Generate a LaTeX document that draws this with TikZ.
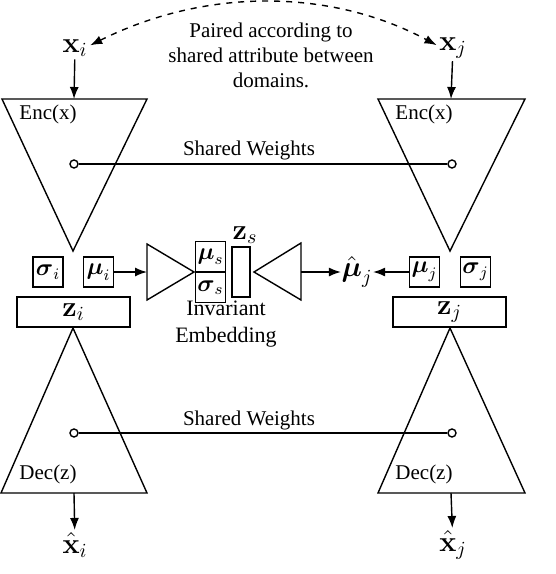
\documentclass[tikz,border=0pt]{standalone}
\usepackage{amsmath,amssymb}
\usepackage[no-math]{fontspec}
\setmainfont{Liberation Serif}
\usetikzlibrary{arrows.meta,positioning}

\begin{document}
\begin{tikzpicture}[
    x=0.5pt, y=-0.5pt,
    >={Latex[length=6pt,width=4.5pt]},
    line width=0.7pt,
    lbl/.style={font=\Large, inner sep=1pt},
    vec/.style={draw, minimum width=15pt, minimum height=15pt, inner sep=0pt, font=\large},
    zbox/.style={draw, minimum width=56.5pt, minimum height=15pt, inner sep=0pt, font=\Large},
    wdot/.style={circle, draw, fill=white, minimum size=4pt, inner sep=0pt},
    txt/.style={font=\rmfamily\fontsize{10.5}{12.5}\selectfont, align=center, inner sep=0pt}
]
\useasboundingbox (0,0) rectangle (556,574);

% inputs
\node[lbl] (xi) at (75,48) {$\mathbf{x}_i$};
\node[lbl] (xj) at (453,48) {$\mathbf{x}_j$};
\draw[<->, dashed] (xi.10) .. controls (205,-12) and (330,-12) .. (xj.170);
\node[txt] (pair) at (271,55) {Paired according to\\shared attribute between\\domains.};

% encoders
\coordinate (eL1) at (2,99);
\coordinate (eL2) at (147,99);
\coordinate (eL3) at (73,251);
\coordinate (eLtop) at (74,99);
\coordinate (eR1) at (378,99);
\coordinate (eR2) at (525,99);
\coordinate (eR3) at (450,251);
\coordinate (eRtop) at (451,99);
\draw (eL1) -- (eL2) -- (eL3) -- cycle;
\draw (eR1) -- (eR2) -- (eR3) -- cycle;
\node[txt] (encL) at (48,114) {Enc(x)};
\node[txt] (encR) at (424,114) {Enc(x)};
\draw[->] (xi) -- (eLtop);
\draw[->] (xj) -- (eRtop);

% shared weights (encoder)
\node[wdot] (wL1) at (74,164) {};
\node[wdot] (wR1) at (452,164) {};
\draw (wL1) -- (wR1);
\node[txt] (sw1) at (249,150) {Shared Weights};

% latent vectors
\node[vec] (sigi) at (48,272) {$\boldsymbol{\sigma}_i$};
\node[vec] (mui) at (98.5,272) {$\boldsymbol{\mu}_i$};
\node[zbox] (zi) at (73.5,312) {$\mathbf{z}_i$};
\node[vec] (muj) at (424.5,272) {$\boldsymbol{\mu}_j$};
\node[vec] (sigj) at (475.5,272) {$\boldsymbol{\sigma}_j$};
\node[zbox] (zj) at (449.5,312) {$\mathbf{z}_j$};

% invariant embedding
\coordinate (iL1) at (147,244);
\coordinate (iL2) at (147,300);
\coordinate (iL3) at (194,272);
\coordinate (iLin) at (147,272);
\coordinate (iR1) at (301,243);
\coordinate (iR2) at (301,300);
\coordinate (iR3) at (254,272);
\coordinate (iRout) at (301,272);
\draw (iL1) -- (iL3) -- (iL2) -- cycle;
\draw (iR1) -- (iR3) -- (iR2) -- cycle;
\node[vec] (mus) at (210.5,256.5) {$\boldsymbol{\mu}_s$};
\node[vec] (sigs) at (210.5,287.5) {$\boldsymbol{\sigma}_s$};
\node[draw, minimum width=9pt, minimum height=25pt, inner sep=0pt] (zs) at (241,272) {};
\node[lbl] (zsl) at (245,235) {$\mathbf{z}_s$};
\node[txt, font=\rmfamily\fontsize{11}{13.5}\selectfont] (inv) at (226,324) {Invariant\\Embedding};
\node[lbl, inner sep=0pt] (muhj) at (357,272) {$\hat{\boldsymbol{\mu}}_j$};
\draw[->] (mui) -- (iLin);
\draw[->] (iRout) -- (muhj);
\draw[->] (muj) -- (muhj);

% decoders
\coordinate (dL1) at (1,493);
\coordinate (dL2) at (147,493);
\coordinate (dL3) at (73,328);
\coordinate (dLbot) at (74,493);
\coordinate (dR1) at (378,493);
\coordinate (dR2) at (525,493);
\coordinate (dR3) at (450,328);
\coordinate (dRbot) at (451,493);
\draw (dL1) -- (dL2) -- (dL3) -- cycle;
\draw (dR1) -- (dR2) -- (dR3) -- cycle;
\node[txt] (decL) at (48,474) {Dec(z)};
\node[txt] (decR) at (424,474) {Dec(z)};

% shared weights (decoder)
\node[wdot] (wL2) at (74,433) {};
\node[wdot] (wR2) at (452,433) {};
\draw (wL2) -- (wR2);
\node[txt] (sw2) at (249,420) {Shared Weights};

% outputs
\node[lbl] (xhi) at (75,545) {$\hat{\mathbf{x}}_i$};
\node[lbl] (xhj) at (453,545) {$\hat{\mathbf{x}}_j$};
\draw[->] (dLbot) -- (xhi);
\draw[->] (dRbot) -- (xhj);

\end{tikzpicture}
\end{document}
